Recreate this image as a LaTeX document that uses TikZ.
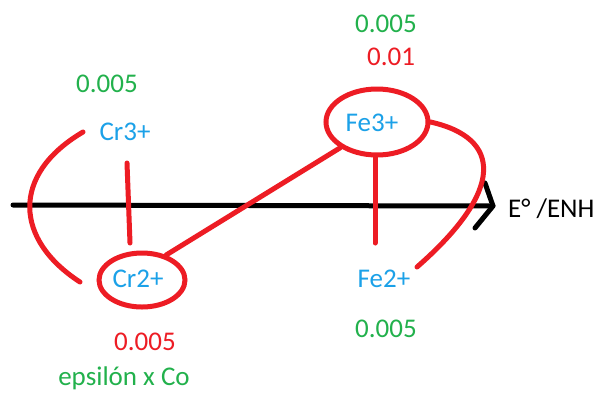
\documentclass[tikz,border=0pt]{standalone}
\usepackage{fontspec}
\setmainfont{Carlito}
\usetikzlibrary{shapes.geometric}
\definecolor{pred}{HTML}{ED1C24}
\definecolor{pgreen}{HTML}{22B14C}
\definecolor{pblue}{HTML}{1BA1E8}
\begin{document}
\begin{tikzpicture}[x=1pt,y=-1pt,
  lbl/.style={inner sep=0pt,anchor=base,font=\fontsize{27}{30}\selectfont},
  redpen/.style={draw=pred,line width=5pt,line cap=round},
  ring/.style={ellipse,draw=pred,line width=5pt,inner sep=0pt}]
\useasboundingbox[fill=white] (0,0) rectangle (599,392);
% axis
\coordinate (ax0) at (13,205);
\coordinate (ax1) at (493,206);
\coordinate (ah1) at (485,183);
\coordinate (ah2) at (475,228);
\draw[line width=5pt,line cap=round] (ax0) -- (ax1);
\draw[line width=5pt,line cap=round,line join=round] (ah1) -- (ax1) -- (ah2);
\node[lbl,anchor=base west] (axl) at (508,217) {E° /ENH};
% texts
\node[lbl,text=pgreen] (g1) at (107,92) {0.005};
\node[lbl,text=pblue] (cr3) at (125,140) {Cr3+};
\node[lbl,text=pblue] (cr2) at (138,287) {Cr2+};
\node[lbl,text=pred] (r1) at (145,350) {0.005};
\node[lbl,text=pgreen] (eps) at (124,385.5) {epsilón x Co};
\node[lbl,text=pgreen] (g2) at (386,32) {0.005};
\node[lbl,text=pred] (r2) at (391,65) {0.01};
\node[lbl,text=pblue] (fe3) at (372,131) {Fe3+};
\node[lbl,text=pblue] (fe2) at (384,287) {Fe2+};
\node[lbl,text=pgreen] (g3) at (386,337) {0.005};
% ellipses
\node[ring,minimum width=86pt,minimum height=54pt] (cr2e) at (142,280) {};
\node[ring,minimum width=102pt,minimum height=66pt] (fe3e) at (377,122) {};
% red strokes
\coordinate (crt) at (127,163);
\coordinate (crb) at (130,243);
\draw[redpen] (crt) -- (crb);
\coordinate (fet) at (375,156);
\coordinate (feb) at (375,243);
\draw[redpen] (fet) -- (feb);
\draw[redpen] (cr2e.46) -- (fe3e.215);
\coordinate (la1) at (83,132);
\coordinate (la2) at (80,282);
\draw[redpen] (la1) .. controls (10,175) and (15,240) .. (la2);
\coordinate (ra2) at (417,267);
\draw[redpen] (fe3e.east) .. controls (502,138) and (505,190) .. (ra2);
\end{tikzpicture}
\end{document}
